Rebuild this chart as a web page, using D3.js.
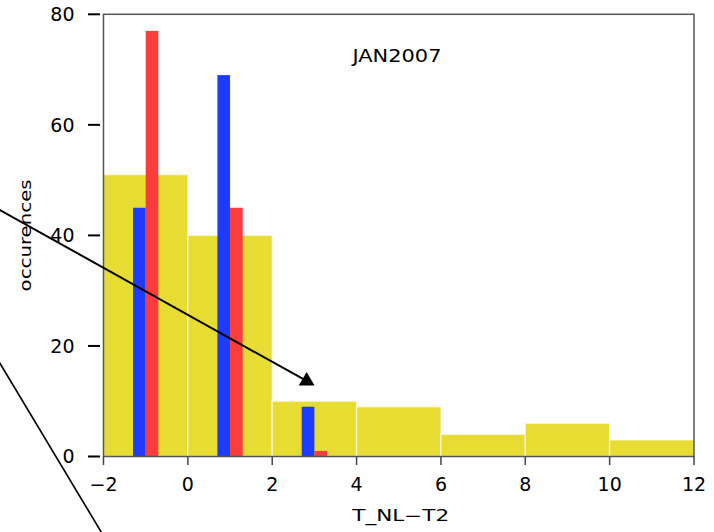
<!DOCTYPE html>
<html>
<head>
<meta charset="utf-8">
<script src="https://cdn.jsdelivr.net/npm/d3@7"></script>
<style>
  html, body { margin: 0; padding: 0; background: #fff; }
  svg { display: block; }
  text { font-family: "DejaVu Sans", sans-serif; fill: #000; }
</style>
</head>
<body>
<svg id="chart" width="714" height="532"></svg>
<script>
// Histogram of T_NL - T2 differences, January 2007
const binEdges = [-2, 0, 2, 4, 6, 8, 10, 12];
const binCounts = [51, 40, 10, 9, 4, 6, 3];

// Narrow paired bars centred on odd values
const pairCenters = [-1, 1, 3];
const blueCounts = [45, 69, 9];
const redCounts = [77, 45, 1];

const xTicks = [-2, 0, 2, 4, 6, 8, 10, 12];
const yTicks = [0, 20, 40, 60, 80];

const titleText = "JAN2007";
const xTitle = "T_NL\u2212T2";
const yTitle = "occurences";

// Annotation lines in data coordinates
const arrowLine = [[-4.6, 45.2], [2.816, 13.66]];
const slashLine = [[-4.6, 18.7], [-1.87, -16.0]];

const W = 714, H = 532;
const margin = { top: 14.3, right: 20, bottom: 75.5, left: 103.5 };

const svg = d3.select("#chart");
const x = d3.scaleLinear().domain([-2, 12]).range([margin.left, W - margin.right]);
const y = d3.scaleLinear().domain([0, 80]).range([H - margin.bottom, margin.top]);

const halfW = 0.3;
const yellow = "#e6dc32", blue = "#1e3cff", red = "#fb3c3c";

// Wide histogram bins
svg.append("g").selectAll("rect")
  .data(binCounts)
  .join("rect")
  .attr("x", (d, i) => x(binEdges[i]))
  .attr("width", (d, i) => x(binEdges[i + 1]) - x(binEdges[i]))
  .attr("y", d => y(d))
  .attr("height", d => y(0) - y(d))
  .attr("fill", yellow)
  .attr("stroke", "#fff")
  .attr("stroke-opacity", 0.55)
  .attr("stroke-width", 1.5);

// Blue bars (left of centre)
svg.append("g").selectAll("rect")
  .data(blueCounts)
  .join("rect")
  .attr("x", (d, i) => x(pairCenters[i] - halfW))
  .attr("width", (d, i) => x(pairCenters[i]) - x(pairCenters[i] - halfW))
  .attr("y", d => y(d))
  .attr("height", d => y(0) - y(d))
  .attr("fill", blue);

// Red bars (right of centre)
svg.append("g").selectAll("rect")
  .data(redCounts)
  .join("rect")
  .attr("x", (d, i) => x(pairCenters[i]))
  .attr("width", (d, i) => x(pairCenters[i] + halfW) - x(pairCenters[i]))
  .attr("y", d => y(d))
  .attr("height", d => y(0) - y(d))
  .attr("fill", red);

// Plot frame
svg.append("rect")
  .attr("x", x(-2)).attr("y", y(80))
  .attr("width", x(12) - x(-2)).attr("height", y(0) - y(80))
  .attr("fill", "none")
  .attr("stroke", "#555")
  .attr("stroke-width", 1.5);

// Y axis: ticks offset from the frame
const yAxis = svg.append("g");
yAxis.selectAll("line")
  .data(yTicks)
  .join("line")
  .attr("x1", x(-2) - 15.5).attr("x2", x(-2) - 3.5)
  .attr("y1", d => y(d)).attr("y2", d => y(d))
  .attr("stroke", "#000").attr("stroke-width", 2);
yAxis.selectAll("text")
  .data(yTicks)
  .join("text")
  .attr("x", x(-2) - 29)
  .attr("y", d => y(d))
  .attr("dy", "0.36em")
  .attr("text-anchor", "end")
  .attr("font-size", 19)
  .text(d => d);

// X axis ticks and labels
const xAxis = svg.append("g");
xAxis.selectAll("line")
  .data(xTicks)
  .join("line")
  .attr("x1", d => x(d)).attr("x2", d => x(d))
  .attr("y1", y(0)).attr("y2", y(0) + 8.5)
  .attr("stroke", "#444").attr("stroke-width", 1.5);
xAxis.selectAll("text")
  .data(xTicks)
  .join("text")
  .attr("x", d => x(d))
  .attr("y", y(0) + 34)
  .attr("text-anchor", "middle")
  .attr("font-size", 19)
  .text(d => d < 0 ? "\u2212" + Math.abs(d) : d);

// Titles (wide lettering)
svg.append("text")
  .attr("x", 397).attr("y", 62)
  .attr("text-anchor", "middle")
  .attr("font-size", 18.5)
  .attr("textLength", 89)
  .attr("lengthAdjust", "spacingAndGlyphs")
  .text(titleText);

svg.append("text")
  .attr("x", (x(-2) + x(12)) / 2 + 2).attr("y", 521)
  .attr("text-anchor", "middle")
  .attr("font-size", 15.5)
  .attr("textLength", 97)
  .attr("lengthAdjust", "spacingAndGlyphs")
  .text(xTitle);

svg.append("text")
  .attr("transform", `translate(31,${(y(0) + y(80)) / 2}) rotate(-90)`)
  .attr("text-anchor", "middle")
  .attr("font-size", 16)
  .attr("textLength", 112)
  .attr("lengthAdjust", "spacingAndGlyphs")
  .text(yTitle);

// Annotation lines
const line = d3.line().x(d => x(d[0])).y(d => y(d[1]));
svg.append("path")
  .attr("d", line(arrowLine))
  .attr("fill", "none").attr("stroke", "#000").attr("stroke-width", 2);
svg.append("path")
  .attr("d", line(slashLine))
  .attr("fill", "none").attr("stroke", "#000").attr("stroke-width", 1.6);

// Arrowhead marker at the end of the arrow line
const tip = arrowLine[arrowLine.length - 1];
svg.append("path")
  .attr("d", d3.symbol(d3.symbolTriangle, 108)())
  .attr("transform", `translate(${x(tip[0])},${y(tip[1])})`)
  .attr("fill", "#000");
</script>
</body>
</html>
